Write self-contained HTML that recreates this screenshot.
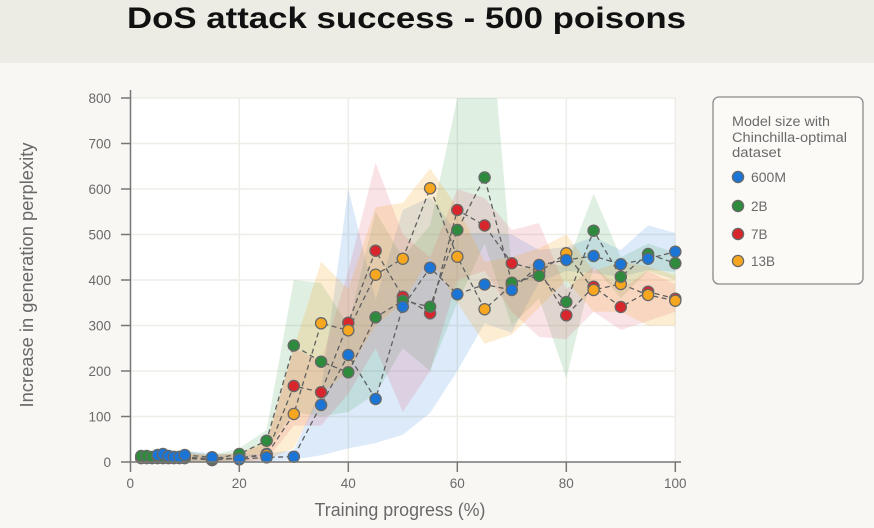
<!DOCTYPE html>
<html><head><meta charset="utf-8"><style>
html,body{margin:0;padding:0;background:#f8f7f3;}
svg{display:block;}
text{font-family:"Liberation Sans",sans-serif;}
</style></head><body>
<svg width="874" height="528" viewBox="0 0 874 528" xmlns="http://www.w3.org/2000/svg">
<defs>
<clipPath id="pc"><rect x="130.5" y="98" width="545.5" height="364"/></clipPath>
<marker id="mB" markerUnits="userSpaceOnUse" markerWidth="14" markerHeight="14" refX="7" refY="7" viewBox="0 0 14 14"><circle cx="7" cy="7" r="5.6" fill="#1b75d6" stroke="#686868" stroke-width="1.3"/></marker>
<marker id="mG" markerUnits="userSpaceOnUse" markerWidth="14" markerHeight="14" refX="7" refY="7" viewBox="0 0 14 14"><circle cx="7" cy="7" r="5.6" fill="#2e8a3c" stroke="#686868" stroke-width="1.3"/></marker>
<marker id="mR" markerUnits="userSpaceOnUse" markerWidth="14" markerHeight="14" refX="7" refY="7" viewBox="0 0 14 14"><circle cx="7" cy="7" r="5.6" fill="#d7262c" stroke="#686868" stroke-width="1.3"/></marker>
<marker id="mO" markerUnits="userSpaceOnUse" markerWidth="14" markerHeight="14" refX="7" refY="7" viewBox="0 0 14 14"><circle cx="7" cy="7" r="5.6" fill="#f6a71f" stroke="#686868" stroke-width="1.3"/></marker>
</defs>
<rect x="0" y="0" width="874" height="528" fill="#f8f7f3"/>
<rect x="0" y="0" width="874" height="63" fill="#ecebe4"/>
<text x="127" y="28" font-size="30" font-weight="bold" fill="#111" textLength="559" lengthAdjust="spacingAndGlyphs">DoS attack success - 500 poisons</text>

<rect x="130.5" y="98" width="545.5" height="364" fill="#ffffff"/>
<g stroke="#eeede7" stroke-width="1.5">
<line x1="130.5" y1="416.5" x2="676" y2="416.5"/>
<line x1="130.5" y1="371" x2="676" y2="371"/>
<line x1="130.5" y1="325.5" x2="676" y2="325.5"/>
<line x1="130.5" y1="280" x2="676" y2="280"/>
<line x1="130.5" y1="234.5" x2="676" y2="234.5"/>
<line x1="130.5" y1="189" x2="676" y2="189"/>
<line x1="130.5" y1="143.5" x2="676" y2="143.5"/>
<line x1="130.5" y1="98" x2="676" y2="98"/>
<line x1="239.3" y1="98" x2="239.3" y2="462"/>
<line x1="348.3" y1="98" x2="348.3" y2="462"/>
<line x1="457.3" y1="98" x2="457.3" y2="462"/>
<line x1="566.3" y1="98" x2="566.3" y2="462"/>
<line x1="675.3" y1="98" x2="675.3" y2="462"/>
</g>

<g clip-path="url(#pc)">
<polygon fill="#3f8ddc" fill-opacity="0.18" points="141.2,451 184.8,451 212.1,452.9 239.3,455.2 266.6,452.9 293.8,450.6 321.1,389.2 348.3,189 375.6,300 402.8,210 430.1,197 457.3,233 484.6,233 511.8,234.5 539.1,250 566.3,247 593.6,237 620.8,250 648.1,225.4 675.3,233 675.3,271.8 648.1,270 620.8,276.8 593.6,273.2 566.3,270.9 539.1,282.3 511.8,332.8 484.6,323.2 457.3,371 430.1,412.9 402.8,434.7 375.6,443 348.3,448.4 321.1,455.2 293.8,459.7 266.6,462 239.3,462 212.1,462 184.8,462 141.2,462"/>
<polygon fill="#3a9a4c" fill-opacity="0.16" points="141.2,450.6 184.8,450.6 212.1,455.2 239.3,448.3 266.6,430 293.8,280 321.1,283 348.3,325.5 375.6,211.8 402.8,257.3 430.1,225.4 457.3,98 484.6,-50 511.8,270.9 539.1,261.8 566.3,266.4 593.6,193.6 620.8,257.3 648.1,243.6 675.3,252.7 675.3,280 648.1,270.9 620.8,298.2 593.6,266.4 566.3,378.3 539.1,298.2 511.8,325.5 484.6,243.6 457.3,302.8 430.1,371 402.8,348.3 375.6,393.8 348.3,412 321.1,416.5 293.8,412 266.6,450.6 239.3,459.7 212.1,462 184.8,462 141.2,462"/>
<polygon fill="#e0506a" fill-opacity="0.16" points="141.2,452.9 184.8,452.9 212.1,455.2 239.3,452.9 266.6,443.8 293.8,348.3 321.1,361.9 348.3,270.9 375.6,162.6 402.8,234.5 430.1,257.3 457.3,189 484.6,198 511.8,230 539.1,223.1 566.3,289.1 593.6,266.4 620.8,289.1 648.1,270.9 675.3,284.5 675.3,311.8 648.1,321 620.8,330 593.6,311.8 566.3,339.2 539.1,336.9 511.8,311.8 484.6,270.9 457.3,280 430.1,371 402.8,412 375.6,348.3 348.3,393.8 321.1,425.6 293.8,425.6 266.6,459.7 239.3,462 212.1,462 184.8,462 141.2,462"/>
<polygon fill="#f5a623" fill-opacity="0.2" points="141.2,452.9 184.8,452.9 212.1,455.2 239.3,452.9 266.6,441.5 293.8,348.3 321.1,261.8 348.3,289.1 375.6,207.2 402.8,202.7 430.1,168.5 457.3,207.2 484.6,261.8 511.8,257.3 539.1,248.2 566.3,234.5 593.6,270.9 620.8,261.8 648.1,266.4 675.3,275.5 675.3,325.5 648.1,325.5 620.8,311.8 593.6,311.8 566.3,280 539.1,307.3 511.8,334.6 484.6,343.7 457.3,302.8 430.1,257.3 402.8,302.8 375.6,325.5 348.3,371 321.1,393.8 293.8,448.4 266.6,459.7 239.3,462 212.1,462 184.8,462 141.2,462"/>
</g>

<g fill="none" stroke="#5f5f5f" stroke-width="1.3" stroke-dasharray="5,3.5">
<polyline points="141.2,458 146.7,458 152.1,458 157.6,458 163,458 168.5,458 173.9,458 179.4,458 184.8,458 212.1,460 239.3,458 266.6,454 293.8,386 321.1,392.3 348.3,322.7 375.6,250.7 402.8,296.7 430.1,313.3 457.3,210 484.6,225.5 511.8,263.3 539.1,270 566.3,315.3 593.6,286.7 620.8,307 648.1,291.7 675.3,298.7"/>
<polyline points="141.2,458 146.7,458 152.1,458 157.6,458 163,458 168.5,458 173.9,458 179.4,458 184.8,458 212.1,460 239.3,458 266.6,455 293.8,414 321.1,323.3 348.3,330.3 375.6,274.7 402.8,258.7 430.1,188.3 457.3,256.7 484.6,309.2 511.8,285 539.1,272 566.3,253.3 593.6,290 620.8,284 648.1,295 675.3,300.7"/>
<polyline points="141.2,456 146.7,456 152.1,457 157.6,457 163,457 168.5,457 173.9,457 179.4,457 184.8,457 212.1,459 239.3,454 266.6,440.7 293.8,345.5 321.1,361.7 348.3,372.3 375.6,317.3 402.8,300.7 430.1,306.7 457.3,230 484.6,177.5 511.8,282.7 539.1,275.7 566.3,302 593.6,230.7 620.8,276.7 648.1,254 675.3,263.3"/>
<polyline points="152.1,457 157.6,455 163,454 168.5,456 173.9,457 179.4,457 184.8,455 212.1,457.3 239.3,459.3 266.6,457.3 293.8,456.7 321.1,405 348.3,355 375.6,399 402.8,306.7 430.1,267.7 457.3,294.3 484.6,284.5 511.8,290 539.1,265 566.3,260 593.6,256 620.8,264.3 648.1,258.7 675.3,251.7"/>
</g>

<g fill="none" stroke="none">
<polyline marker-start="url(#mR)" marker-mid="url(#mR)" marker-end="url(#mR)" points="141.2,458 146.7,458 152.1,458 157.6,458 163,458 168.5,458 173.9,458 179.4,458 184.8,458 212.1,460 239.3,458 266.6,454 293.8,386 321.1,392.3 348.3,322.7 375.6,250.7 402.8,296.7 430.1,313.3 457.3,210 484.6,225.5 511.8,263.3 539.1,270 566.3,315.3 593.6,286.7 620.8,307 648.1,291.7 675.3,298.7"/>
<polyline marker-start="url(#mO)" marker-mid="url(#mO)" marker-end="url(#mO)" points="141.2,458 146.7,458 152.1,458 157.6,458 163,458 168.5,458 173.9,458 179.4,458 184.8,458 212.1,460 239.3,458 266.6,455 293.8,414 321.1,323.3 348.3,330.3 375.6,274.7 402.8,258.7 430.1,188.3 457.3,256.7 484.6,309.2 511.8,285 539.1,272 566.3,253.3 593.6,290 620.8,284 648.1,295 675.3,300.7"/>
<polyline marker-start="url(#mG)" marker-mid="url(#mG)" marker-end="url(#mG)" points="141.2,456 146.7,456 152.1,457 157.6,457 163,457 168.5,457 173.9,457 179.4,457 184.8,457 212.1,459 239.3,454 266.6,440.7 293.8,345.5 321.1,361.7 348.3,372.3 375.6,317.3 402.8,300.7 430.1,306.7 457.3,230 484.6,177.5 511.8,282.7 539.1,275.7 566.3,302 593.6,230.7 620.8,276.7 648.1,254 675.3,263.3"/>
<polyline marker-start="url(#mB)" marker-mid="url(#mB)" marker-end="url(#mB)" points="157.6,455 163,454 168.5,456 173.9,457 179.4,457 184.8,455 212.1,457.3 239.3,459.3 266.6,457.3 293.8,456.7 321.1,405 348.3,355 375.6,399 402.8,306.7 430.1,267.7 457.3,294.3 484.6,284.5 511.8,290 539.1,265 566.3,260 593.6,256 620.8,264.3 648.1,258.7 675.3,251.7"/>
</g>

<g stroke="#767676" stroke-width="1.5" fill="none">
<line x1="130.5" y1="90" x2="130.5" y2="472"/>
<line x1="121" y1="462" x2="681" y2="462"/>
<line x1="121" y1="416.5" x2="130.5" y2="416.5"/>
<line x1="121" y1="371" x2="130.5" y2="371"/>
<line x1="121" y1="325.5" x2="130.5" y2="325.5"/>
<line x1="121" y1="280" x2="130.5" y2="280"/>
<line x1="121" y1="234.5" x2="130.5" y2="234.5"/>
<line x1="121" y1="189" x2="130.5" y2="189"/>
<line x1="121" y1="143.5" x2="130.5" y2="143.5"/>
<line x1="121" y1="98" x2="130.5" y2="98"/>
<line x1="239.3" y1="462" x2="239.3" y2="472"/>
<line x1="348.3" y1="462" x2="348.3" y2="472"/>
<line x1="457.3" y1="462" x2="457.3" y2="472"/>
<line x1="566.3" y1="462" x2="566.3" y2="472"/>
<line x1="675.3" y1="462" x2="675.3" y2="472"/>
</g>

<g font-size="13.5" fill="#696969" text-anchor="end">
<text x="111" y="467">0</text>
<text x="111" y="421.5">100</text>
<text x="111" y="376">200</text>
<text x="111" y="330.5">300</text>
<text x="111" y="285">400</text>
<text x="111" y="239.5">500</text>
<text x="111" y="194">600</text>
<text x="111" y="148.5">700</text>
<text x="111" y="103">800</text>
</g>
<g font-size="13.5" fill="#696969" text-anchor="middle">
<text x="130.3" y="488">0</text>
<text x="239.3" y="488">20</text>
<text x="348.3" y="488">40</text>
<text x="457.3" y="488">60</text>
<text x="566.3" y="488">80</text>
<text x="675.3" y="488">100</text>
</g>
<text x="400" y="516" font-size="18" fill="#696969" text-anchor="middle" textLength="171" lengthAdjust="spacingAndGlyphs">Training progress (%)</text>
<text transform="translate(33,275) rotate(-90)" x="0" y="0" font-size="18" fill="#696969" text-anchor="middle" textLength="265" lengthAdjust="spacingAndGlyphs">Increase in generation perplexity</text>

<rect x="713" y="97" width="150" height="187" rx="6" ry="6" fill="#fbfaf7" stroke="#8a8a8a" stroke-width="1.3"/>
<g font-size="13.5" fill="#6a6a6a">
<text x="732" y="126" textLength="98" lengthAdjust="spacingAndGlyphs">Model size with</text>
<text x="732" y="142" textLength="115" lengthAdjust="spacingAndGlyphs">Chinchilla-optimal</text>
<text x="732" y="157" textLength="49" lengthAdjust="spacingAndGlyphs">dataset</text>
<text x="751" y="182" textLength="35" lengthAdjust="spacingAndGlyphs">600M</text>
<text x="751" y="211">2B</text>
<text x="751" y="239">7B</text>
<text x="751" y="266">13B</text>
</g>
<circle cx="738" cy="177" r="5.6" fill="#1b75d6" stroke="#686868" stroke-width="1.3"/>
<circle cx="738" cy="206" r="5.6" fill="#2e8a3c" stroke="#686868" stroke-width="1.3"/>
<circle cx="738" cy="234" r="5.6" fill="#d7262c" stroke="#686868" stroke-width="1.3"/>
<circle cx="738" cy="261" r="5.6" fill="#f6a71f" stroke="#686868" stroke-width="1.3"/>
</svg>
</body></html>
